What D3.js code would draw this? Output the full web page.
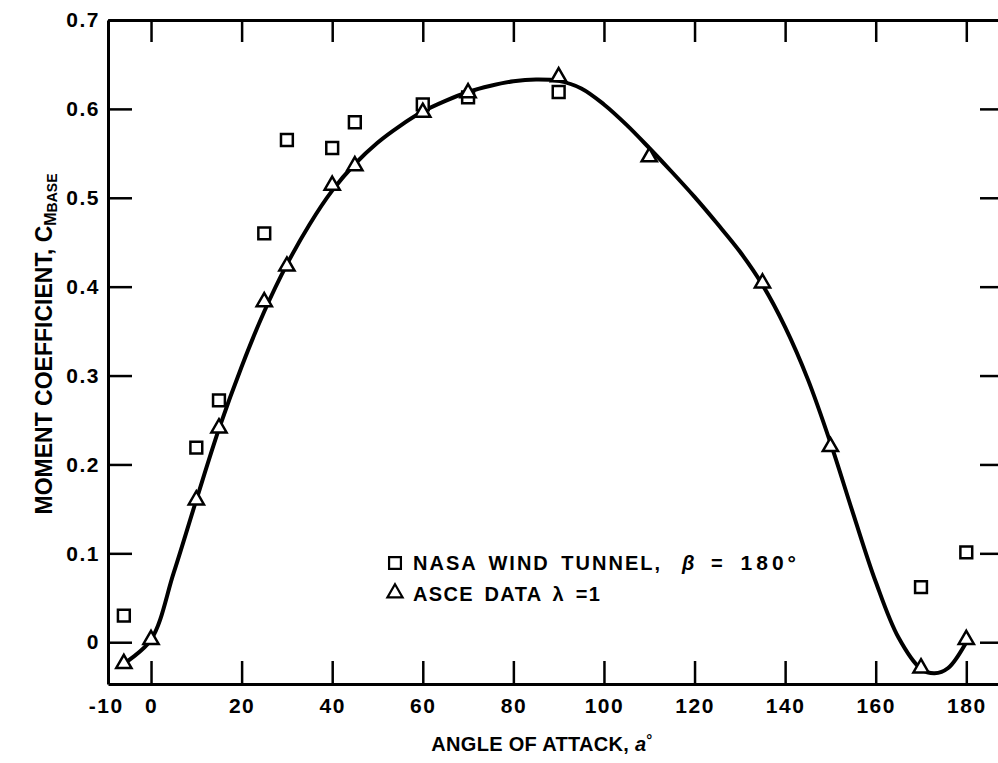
<!DOCTYPE html>
<html>
<head>
<meta charset="utf-8">
<script src="https://cdn.jsdelivr.net/npm/d3@7"></script>
<style>
  body { margin: 0; background: #fff; }
  svg { display: block; font-family: "Liberation Sans", Arial, sans-serif; font-weight: bold; }
</style>
</head>
<body>
<div id="chart"></div>
<script>
// values
const angleTicks = [-10, 0, 20, 40, 60, 80, 100, 120, 140, 160, 180];
const cmTicks = [0, 0.1, 0.2, 0.3, 0.4, 0.5, 0.6, 0.7];

// NASA wind tunnel (squares)
const nasaAngle = [-6, 10, 15, 25, 30, 40, 45, 60, 70, 90, 170, 180];
const nasaCm = [0.03, 0.219, 0.272, 0.46, 0.565, 0.556, 0.585, 0.605, 0.613, 0.619, 0.062, 0.101];

// ASCE data (triangles)
const asceAngle = [-6, 0, 10, 15, 25, 30, 40, 45, 60, 70, 90, 110, 135, 150, 170, 180];
const asceCm = [-0.024, 0.003, 0.16, 0.241, 0.383, 0.423, 0.514, 0.536, 0.596, 0.618, 0.636, 0.546, 0.404, 0.22, -0.029, 0.003];

// faired curve
const fitAngle = [-6, 0, 5, 10, 15, 20, 25, 30, 35, 40, 45, 50, 55, 60, 65, 70, 75, 80, 85, 90, 95, 100, 105, 110, 115, 120, 125, 130, 135, 140, 145, 150, 155, 160, 165, 170, 173, 176, 180];
const fitCm = [-0.024, 0.003, 0.078, 0.16, 0.24, 0.31, 0.372, 0.425, 0.47, 0.508, 0.538, 0.562, 0.581, 0.597, 0.609, 0.619, 0.626, 0.631, 0.633, 0.6315, 0.623, 0.605, 0.582, 0.556, 0.529, 0.501, 0.471, 0.4395, 0.402, 0.3545, 0.296, 0.2245, 0.145, 0.068, 0.0055, -0.03, -0.035, -0.029, 0.0];

const width = 998, height = 763;
const mLeft = 108, mRight = 998, mTop = 20, mBottom = 684;

const svg = d3.select("#chart").append("svg")
  .attr("width", width)
  .attr("height", height);

const x = d3.scaleLinear().domain([-9.5, 187]).range([mLeft, mRight]);
const y = d3.scaleLinear().domain([-0.047, 0.7]).range([mBottom, mTop]);

// Axes (ticks point inward)
const xBottom = svg.append("g")
  .attr("transform", `translate(0,${mBottom})`)
  .call(d3.axisBottom(x).tickValues(angleTicks).tickSize(-23).tickSizeOuter(0).tickPadding(14).tickFormat(d => String(d)));
xBottom.selectAll(".tick").filter(d => d < 0).select("line").remove();

const xTop = svg.append("g")
  .attr("transform", `translate(0,${mTop})`)
  .call(d3.axisTop(x).tickValues(angleTicks.filter(d => d >= 0)).tickSize(-22).tickSizeOuter(0).tickFormat(""));

const yLeft = svg.append("g")
  .attr("transform", `translate(${mLeft},0)`)
  .call(d3.axisLeft(y).tickValues(cmTicks).tickSize(-24).tickSizeOuter(0).tickPadding(8)
    .tickFormat(d => d === 0 ? "0" : d.toFixed(1)));

const yRight = svg.append("g")
  .attr("transform", `translate(${mRight},0)`)
  .call(d3.axisRight(y).tickValues(cmTicks.filter(d => d < 0.7)).tickSize(-18).tickSizeOuter(0).tickFormat(""));
yRight.select(".domain").remove();

svg.selectAll(".domain").attr("stroke", "#000").attr("stroke-width", 3);
svg.selectAll(".tick line").attr("stroke", "#000").attr("stroke-width", 2.5);
svg.selectAll(".tick text")
  .attr("fill", "#000")
  .style("font-size", "21px")
  .style("font-weight", "bold")
  .style("letter-spacing", "1.5px")
  .style("font-family", "'Liberation Sans', Arial, sans-serif");

// faired curve
const fit = fitAngle.map((a, i) => [a, fitCm[i]]);
svg.append("path")
  .datum(fit)
  .attr("fill", "none")
  .attr("stroke", "#000")
  .attr("stroke-width", 4)
  .attr("d", d3.line().x(d => x(d[0])).y(d => y(d[1])).curve(d3.curveCatmullRom.alpha(0.5)));

// markers
const square = d3.symbol().type(d3.symbolSquare).size(140);
const triangle = d3.symbol().type(d3.symbolTriangle).size(100);

const nasa = nasaAngle.map((a, i) => [a, nasaCm[i]]);
const asce = asceAngle.map((a, i) => [a, asceCm[i]]);

svg.selectAll(".nasa")
  .data(nasa)
  .enter().append("path")
  .attr("class", "nasa")
  .attr("d", square)
  .attr("transform", d => `translate(${x(d[0])},${y(d[1])})`)
  .attr("fill", "#fff")
  .attr("stroke", "#000")
  .attr("stroke-width", 2.5);

svg.selectAll(".asce")
  .data(asce)
  .enter().append("path")
  .attr("class", "asce")
  .attr("d", triangle)
  .attr("transform", d => `translate(${x(d[0])},${y(d[1])})`)
  .attr("fill", "#fff")
  .attr("stroke", "#000")
  .attr("stroke-width", 2.5);

// legend
const legend = svg.append("g").attr("transform", "translate(395,563)");
legend.append("path").attr("d", square).attr("fill", "#fff").attr("stroke", "#000").attr("stroke-width", 2.2);
legend.append("path").attr("d", triangle).attr("transform", "translate(0,30)")
  .attr("fill", "#fff").attr("stroke", "#000").attr("stroke-width", 2.2);

const l1 = legend.append("text").attr("x", 18).attr("y", 7)
  .style("font-size", "20px").style("letter-spacing", "2px").style("word-spacing", "4px");
l1.append("tspan").text("NASA WIND TUNNEL,");
l1.append("tspan").attr("dx", 20).style("font-style", "italic").text("β");
l1.append("tspan").attr("dx", 3).text(" =");
l1.append("tspan").attr("dx", 2).style("font-size", "21px").style("letter-spacing", "4px").text(" 180°");

legend.append("text").attr("x", 18).attr("y", 38)
  .style("font-size", "20px").style("letter-spacing", "1.3px").style("word-spacing", "4px")
  .text("ASCE DATA λ =1");

// X axis title
const xt = svg.append("text")
  .attr("x", 542).attr("y", 751)
  .attr("text-anchor", "middle")
  .style("font-size", "20px")
  .style("letter-spacing", "0.3px");
xt.append("tspan").text("ANGLE OF ATTACK, ");
xt.append("tspan").style("font-style", "italic").text("a");
xt.append("tspan").attr("dy", -6).style("font-size", "15px").text("°");

// Y axis title
const yt = svg.append("text")
  .attr("transform", `translate(52,${(175 + 513) / 2})rotate(-90)`)
  .attr("text-anchor", "middle")
  .style("font-size", "23px");
yt.append("tspan").text("MOMENT COEFFICIENT, C");
yt.append("tspan").attr("dy", 4).style("font-size", "16px").text("M");
yt.append("tspan").attr("dy", 1).style("font-size", "14px").text("BASE");
</script>
</body>
</html>
